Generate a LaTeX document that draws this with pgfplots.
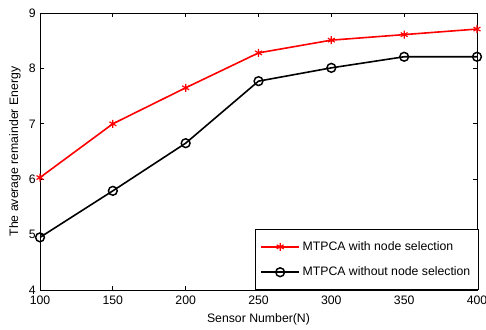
\documentclass[border=0pt]{standalone}
\usepackage{pgfplots}
\pgfplotsset{compat=1.18}
\usepackage{fontspec}
\setmainfont{Liberation Sans}
\begin{document}
\fontsize{9.2}{11}\selectfont
\begin{tikzpicture}
\begin{axis}[
  name=ax,
  scale only axis,
  width=327.75pt, height=207.75pt,
  xmin=100, xmax=400, ymin=4, ymax=9,
  xtick={100,150,...,400}, ytick={4,5,...,9},
  tick align=inside,
  major tick length=3pt,
  axis line style={line width=0.7pt},
  tick style={black, line width=0.5pt},
  /pgf/number format/assume math mode=true,
  tick label style={font=\fontsize{9.2}{11}\selectfont},
  xticklabel style={yshift=-1.5pt},
  xlabel={Sensor Number(N)},
  ylabel={The average remainder Energy},
  label style={font=\fontsize{9.2}{11}\selectfont},
  xlabel style={at={(axis description cs:0.5,-0.1047)}, anchor=center},
  ylabel style={at={(axis description cs:-0.0572,0.5)}, anchor=center},
  legend cell align=left,
  legend style={at={(1.004,0)}, anchor=south east, draw=black, line width=0.6pt,
    font=\fontsize{9.2}{11}\selectfont, inner xsep=4pt, inner ysep=7pt,
    row sep=7pt},
  legend image code/.code={
    \draw[#1, mark repeat=2, mark phase=2] plot coordinates {(0pt,0pt) (14.25pt,0pt) (28.5pt,0pt)};
  },
]
\addplot[red, line width=1.2pt, mark=asterisk, mark size=3pt, mark options={line width=0.9pt}]
  coordinates {(100,6.03) (150,7.0) (200,7.65) (250,8.28) (300,8.51) (350,8.61) (400,8.71)};
\addlegendentry{MTPCA with node selection}
\addplot[black, line width=1.2pt, mark=o, mark size=3.3pt, mark options={line width=1.1pt}]
  coordinates {(100,4.95) (150,5.79) (200,6.65) (250,7.77) (300,8.01) (350,8.21) (400,8.21)};
\addlegendentry{MTPCA without node selection}
\end{axis}
\pgfresetboundingbox
\path (ax.south west) ++(-30pt,-29.25pt) coordinate (bl);
\path (ax.north east) ++(6.75pt,9.75pt) coordinate (tr);
\useasboundingbox (bl) rectangle (tr);
\end{tikzpicture}
\end{document}
